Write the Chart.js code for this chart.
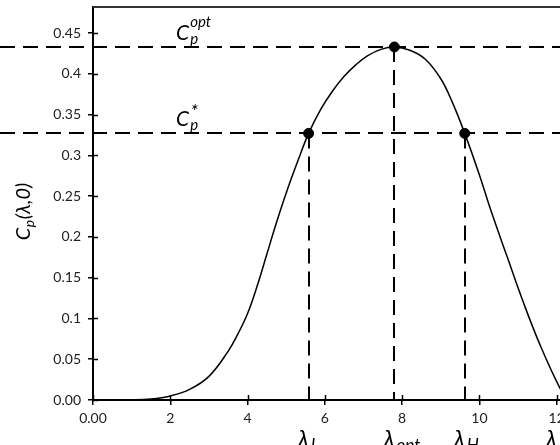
<!DOCTYPE html>
<html>
<head>
<meta charset="utf-8">
<script src="https://cdn.jsdelivr.net/npm/chart.js@4/dist/chart.umd.min.js"></script>
<style>
  html, body { margin: 0; padding: 0; background: #fff; overflow: hidden; }
  #wrap { width: 640px; height: 445px; }
</style>
</head>
<body>
<div id="wrap"><canvas id="myChart" width="640" height="445"></canvas></div>
<script>
// Cp(lambda, 0) curve
const lambdaVals = [0, 1, 1.5, 2, 2.5, 3, 3.5, 3.75, 4, 4.25, 4.5, 4.75, 5, 5.3, 5.58, 5.9, 6.2, 6.5, 6.8, 7.1, 7.45, 7.8, 8.2, 8.6, 9.0, 9.3, 9.62, 10.0, 10.3, 10.7, 11.15, 11.6, 12.1, 12.3];
const cpVals = [0, 0.0002, 0.0012, 0.005, 0.013, 0.029, 0.060, 0.081, 0.106, 0.140, 0.179, 0.218, 0.254, 0.293, 0.327, 0.357, 0.379, 0.397, 0.411, 0.422, 0.430, 0.433, 0.429, 0.418, 0.394, 0.365, 0.327, 0.276, 0.232, 0.178, 0.118, 0.064, 0.013, 0];

// marked points: lambda_L, lambda_opt, lambda_H
const markLambda = [5.58, 7.8, 9.62];
const markCp = [0.327, 0.433, 0.327];

// horizontal levels Cp^opt, Cp^*
const cpLevels = [0.433, 0.327];
const levelSup = ['opt', '*'];
const levelLabelX = 2.15;

// labels under the x axis
const bottomLabelX = [5.58, 7.8, 9.62, 12];
const bottomLabelSub = ['L', 'opt', 'H', ''];

// ticks
const xTicks = [0, 2, 4, 6, 8, 10, 12];
const xTickLabels = ['0.00', '2', '4', '6', '8', '10', '12'];
const yTicks = [0, 0.05, 0.1, 0.15, 0.2, 0.25, 0.3, 0.35, 0.4, 0.45];
const yTickLabels = ['0.00', '0.05', '0.1', '0.15', '0.2', '0.25', '0.3', '0.35', '0.4', '0.45'];

const FONT = "Lato, 'Open Sans', sans-serif";

function subSup(ctx, x, y, main, sub, sup, size) {
  ctx.font = 'italic ' + size + 'px ' + FONT;
  ctx.fillText(main, x, y);
  const w = ctx.measureText(main).width;
  const small = Math.round(size * 0.7);
  ctx.font = 'italic ' + small + 'px ' + FONT;
  if (sub) ctx.fillText(sub, x + w + 1, y + size * 0.18);
  if (sup === '*') {
    ctx.font = 'italic ' + Math.round(size * 0.95) + 'px ' + FONT;
    ctx.fillText(sup, x + w + 1, y - size * 0.38);
  } else if (sup) {
    ctx.fillText(sup, x + w + 1, y - size * 0.62);
  }
}

// dashed guides behind the curve
const guides = {
  id: 'guides',
  beforeDatasetsDraw(chart) {
    const { ctx, chartArea, scales: { x, y } } = chart;
    ctx.save();
    ctx.strokeStyle = '#000';
    ctx.lineWidth = 2;
    ctx.setLineDash([15, 8]);
    cpLevels.forEach(v => {
      const py = Math.round(y.getPixelForValue(v));
      ctx.beginPath(); ctx.moveTo(0, py); ctx.lineTo(chart.width, py); ctx.stroke();
    });
    markLambda.forEach((v, i) => {
      const px = Math.round(x.getPixelForValue(v));
      ctx.beginPath(); ctx.moveTo(px, y.getPixelForValue(markCp[i])); ctx.lineTo(px, chartArea.bottom); ctx.stroke();
    });
    ctx.restore();
  }
};

// frame top, inner tick marks and all the math labels
const extras = {
  id: 'extras',
  afterDraw(chart) {
    const { ctx, chartArea, scales: { x, y } } = chart;
    ctx.save();
    ctx.strokeStyle = '#333';
    ctx.lineWidth = 2;
    ctx.beginPath(); ctx.moveTo(chartArea.left, chartArea.top); ctx.lineTo(chart.width, chartArea.top); ctx.stroke();

    ctx.strokeStyle = '#000';
    ctx.lineWidth = 1.5;
    xTicks.forEach(v => {
      const px = Math.round(x.getPixelForValue(v)) + 0.5;
      ctx.beginPath(); ctx.moveTo(px, chartArea.bottom); ctx.lineTo(px, chartArea.bottom - 5); ctx.stroke();
    });
    yTicks.forEach(v => {
      const py = Math.round(y.getPixelForValue(v)) + 0.5;
      ctx.beginPath(); ctx.moveTo(chartArea.left, py); ctx.lineTo(chartArea.left + 5, py); ctx.stroke();
    });

    ctx.fillStyle = '#000';
    ctx.textBaseline = 'alphabetic';
    ctx.textAlign = 'left';

    // Cp^opt and Cp^* above their lines
    cpLevels.forEach((v, i) => {
      const py = y.getPixelForValue(v);
      subSup(ctx, x.getPixelForValue(levelLabelX), py - 7, 'C', 'p', levelSup[i], 21);
    });

    // lambda labels under the axis
    bottomLabelX.forEach((v, i) => {
      const px = x.getPixelForValue(v);
      subSup(ctx, px - 11, 447, 'λ', bottomLabelSub[i], '', 24);
    });

    // y title
    ctx.save();
    ctx.translate(30, (chartArea.top + chartArea.bottom) / 2 + 8);
    ctx.rotate(-Math.PI / 2);
    ctx.font = 'italic 20px ' + FONT;
    const wC = ctx.measureText('C').width;
    ctx.font = 'italic 14px ' + FONT;
    const wp = ctx.measureText('p').width;
    ctx.font = 'italic 20px ' + FONT;
    const wRest = ctx.measureText('(λ,0)').width;
    const sx = -(wC + wp + 1 + wRest) / 2;
    ctx.fillText('C', sx, 0);
    ctx.font = 'italic 14px ' + FONT;
    ctx.fillText('p', sx + wC + 0.5, 4);
    ctx.font = 'italic 20px ' + FONT;
    ctx.fillText('(λ,0)', sx + wC + wp + 1, 0);
    ctx.restore();

    ctx.restore();
  }
};

const data = {
  datasets: [{
    label: 'Cp',
    data: lambdaVals.map((v, i) => ({ x: v, y: cpVals[i] })),
    showLine: true,
    borderColor: '#000',
    borderWidth: 1.5,
    pointRadius: 0,
    tension: 0.4,
    order: 2
  }, {
    label: 'marks',
    data: markLambda.map((v, i) => ({ x: v, y: markCp[i] })),
    showLine: false,
    pointRadius: 5,
    backgroundColor: '#000',
    borderColor: '#000',
    order: 1
  }]
};

const config = {
  type: 'scatter',
  data,
  options: {
    responsive: false,
    animation: false,
    devicePixelRatio: 1,
    layout: { padding: { top: 7, right: 6, left: 0, bottom: 0 } },
    plugins: { legend: { display: false }, tooltip: { enabled: false } },
    scales: {
      x: {
        type: 'linear', min: 0, max: 14,
        afterBuildTicks: s => { s.ticks = xTicks.map(v => ({ value: v })); },
        afterFit: s => { s.height = 45; s.paddingLeft = 0; s.paddingRight = 0; },
        grid: { drawOnChartArea: false, tickLength: 5, color: '#000', lineWidth: 1.5 },
        border: { color: '#000', width: 2 },
        ticks: { callback: (v, i) => xTickLabels[i], color: '#222', font: { family: FONT, size: 14 }, padding: 5, maxRotation: 0, autoSkip: false }
      },
      y: {
        type: 'linear', min: 0, max: 0.482,
        afterBuildTicks: s => { s.ticks = yTicks.map(v => ({ value: v })); },
        afterFit: s => { s.width = 93; s.paddingTop = 0; s.paddingBottom = 0; },
        grid: { drawOnChartArea: false, tickLength: 5, color: '#000', lineWidth: 1.5 },
        border: { color: '#000', width: 2 },
        ticks: { callback: (v, i) => yTickLabels[i], color: '#222', font: { family: FONT, size: 14 }, padding: 7, autoSkip: false }
      }
    }
  },
  plugins: [guides, extras]
};

const myChart = new Chart(document.getElementById('myChart'), config);
</script>
</body>
</html>
